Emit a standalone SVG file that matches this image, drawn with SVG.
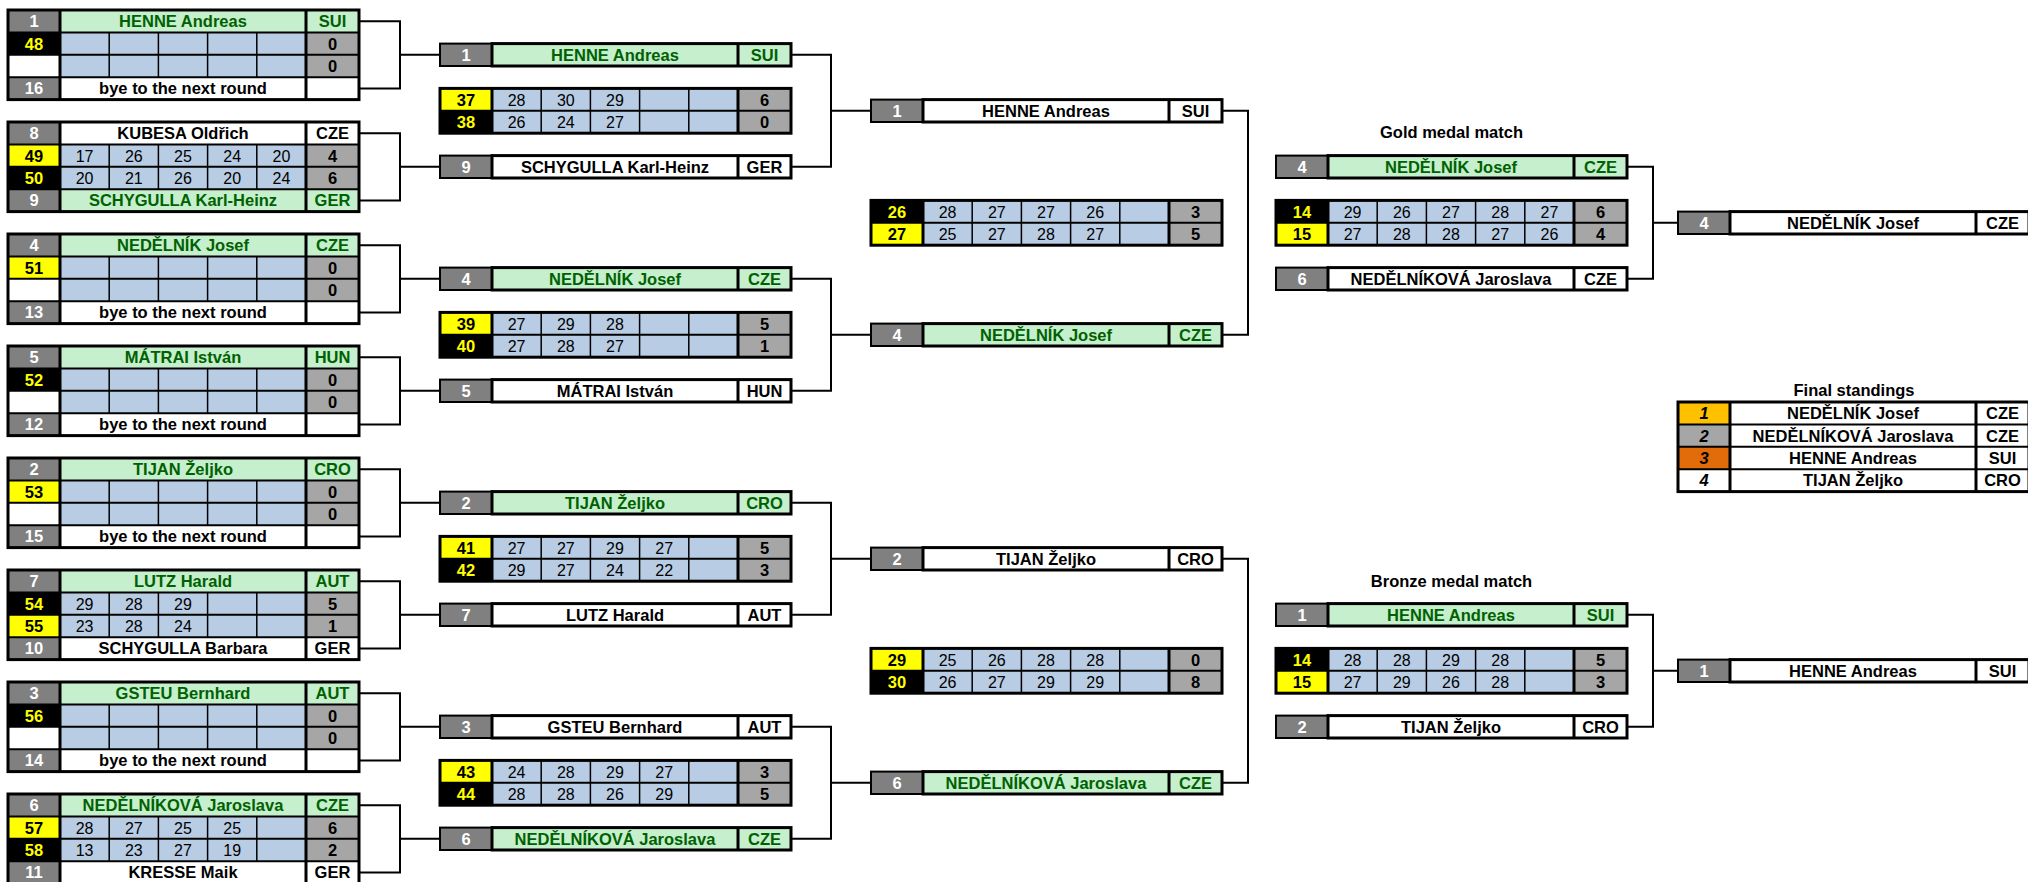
<svg xmlns="http://www.w3.org/2000/svg" xmlns:xlink="http://www.w3.org/1999/xlink" width="2028" height="882" viewBox="0 0 2028 882">
<style>
.sd{fill:#808080}.wh{fill:#fff}.ng{fill:#c6efce}.sc{fill:#b8cce4}.tt{fill:#a6a6a6}.yl{fill:#ffff00}.bk{fill:#000}
.l1{stroke:#000;stroke-width:1.5;fill:none}.l2{stroke:#000;stroke-width:2;fill:none}.l3{stroke:#000;stroke-width:3;fill:none}
.con{stroke:#000;stroke-width:2;fill:none}
text{font-family:"Liberation Sans",Arial,sans-serif;font-size:16.5px;text-anchor:middle;fill:#000}
.b{font-weight:bold}.w{fill:#fff}.g{fill:#006100}.y{fill:#ffff00}.i{font-style:italic}.s{font-size:16px}
</style>
<defs>
<g id="bgrid">
<path class="l2" d="M0 22.4H351M0 44.8H351M0 67.2H351"/>
<path class="l1" d="M101.2 22.4V67.2M150.4 22.4V67.2M199.6 22.4V67.2M248.8 22.4V67.2"/>
<path class="l3" d="M52 0V89.6M298 0V89.6"/>
<rect class="l3" width="351" height="89.6"/>
</g>
<g id="sgrid">
<path class="l2" d="M0 22.4H351"/>
<path class="l1" d="M101.2 0V44.8M150.4 0V44.8M199.6 0V44.8M248.8 0V44.8"/>
<path class="l3" d="M52 0V44.8M298 0V44.8"/>
<rect class="l3" width="351" height="44.8"/>
</g>
<g id="hgrid">
<rect class="l2" width="52" height="22.4"/>
<rect class="l3" x="52" width="299" height="22.4"/>
<path class="l3" d="M298 0V22.4"/>
</g>
<g id="fgrid">
<path class="l2" d="M0 22.4H351M0 44.8H351M0 67.2H351"/>
<path class="l3" d="M52 0V89.6M298 0V89.6"/>
<rect class="l3" width="351" height="89.6"/>
</g>
</defs>
<rect width="2028" height="882" fill="#fff"/>

<g id="connectors">
<path class="con" d="M359 21.2H400V88.4H359M400 54.8H440"/>
<path class="con" d="M359 133.2H400V200.4H359M400 166.8H440"/>
<path class="con" d="M359 245.2H400V312.4H359M400 278.8H440"/>
<path class="con" d="M359 357.2H400V424.4H359M400 390.8H440"/>
<path class="con" d="M359 469.2H400V536.4H359M400 502.8H440"/>
<path class="con" d="M359 581.2H400V648.4H359M400 614.8H440"/>
<path class="con" d="M359 693.2H400V760.4H359M400 726.8H440"/>
<path class="con" d="M359 805.2H400V872.4H359M400 838.8H440"/>
<path class="con" d="M791 54.8H831V166.8H791M831 110.8H871"/>
<path class="con" d="M791 278.8H831V390.8H791M831 334.8H871"/>
<path class="con" d="M791 502.8H831V614.8H791M831 558.8H871"/>
<path class="con" d="M791 726.8H831V838.8H791M831 782.8H871"/>
<path class="con" d="M1222 110.8H1248V334.8H1222"/>
<path class="con" d="M1222 558.8H1248V782.8H1222"/>
<path class="con" d="M1627 166.8H1653V278.8H1627M1653 222.8H1678"/>
<path class="con" d="M1627 614.8H1653V726.8H1627M1653 670.8H1678"/>
</g>

<!-- Round 1 blocks -->
<g id="r1m1" transform="translate(8,10)">
<rect class="sd" width="52" height="22.4"/><rect class="ng" x="52" width="299" height="22.4"/>
<rect class="bk" y="22.4" width="52" height="22.4"/><rect class="wh" y="44.8" width="52" height="22.4"/>
<rect class="sc" x="52" y="22.4" width="246" height="44.8"/><rect class="tt" x="298" y="22.4" width="53" height="44.8"/>
<rect class="sd" y="67.2" width="52" height="22.4"/><rect class="wh" x="52" y="67.2" width="299" height="22.4"/>
<use xlink:href="#bgrid"/>
<text class="b w" x="26" y="17.2">1</text><text class="b g" x="175" y="17.2">HENNE Andreas</text><text class="b g" x="324.5" y="17.2">SUI</text>
<text class="b y" x="26" y="39.6">48</text><text class="b" x="324.5" y="39.6">0</text>
<text class="b" x="324.5" y="62">0</text>
<text class="b w" x="26" y="84.4">16</text><text class="b" x="175" y="84.4">bye to the next round</text>
</g>
<g id="r1m2" transform="translate(8,122)">
<rect class="sd" width="52" height="22.4"/><rect class="wh" x="52" width="299" height="22.4"/>
<rect class="yl" y="22.4" width="52" height="22.4"/><rect class="bk" y="44.8" width="52" height="22.4"/>
<rect class="sc" x="52" y="22.4" width="246" height="44.8"/><rect class="tt" x="298" y="22.4" width="53" height="44.8"/>
<rect class="sd" y="67.2" width="52" height="22.4"/><rect class="ng" x="52" y="67.2" width="299" height="22.4"/>
<use xlink:href="#bgrid"/>
<text class="b w" x="26" y="17.2">8</text><text class="b" x="175" y="17.2">KUBESA Oldřich</text><text class="b" x="324.5" y="17.2">CZE</text>
<text class="b" x="26" y="39.6">49</text><text class="s" x="76.6" y="39.6">17</text><text class="s" x="125.8" y="39.6">26</text><text class="s" x="175" y="39.6">25</text><text class="s" x="224.2" y="39.6">24</text><text class="s" x="273.4" y="39.6">20</text><text class="b" x="324.5" y="39.6">4</text>
<text class="b y" x="26" y="62">50</text><text class="s" x="76.6" y="62">20</text><text class="s" x="125.8" y="62">21</text><text class="s" x="175" y="62">26</text><text class="s" x="224.2" y="62">20</text><text class="s" x="273.4" y="62">24</text><text class="b" x="324.5" y="62">6</text>
<text class="b w" x="26" y="84.4">9</text><text class="b g" x="175" y="84.4">SCHYGULLA Karl-Heinz</text><text class="b g" x="324.5" y="84.4">GER</text>
</g>
<g id="r1m3" transform="translate(8,234)">
<rect class="sd" width="52" height="22.4"/><rect class="ng" x="52" width="299" height="22.4"/>
<rect class="yl" y="22.4" width="52" height="22.4"/><rect class="wh" y="44.8" width="52" height="22.4"/>
<rect class="sc" x="52" y="22.4" width="246" height="44.8"/><rect class="tt" x="298" y="22.4" width="53" height="44.8"/>
<rect class="sd" y="67.2" width="52" height="22.4"/><rect class="wh" x="52" y="67.2" width="299" height="22.4"/>
<use xlink:href="#bgrid"/>
<text class="b w" x="26" y="17.2">4</text><text class="b g" x="175" y="17.2">NEDĚLNÍK Josef</text><text class="b g" x="324.5" y="17.2">CZE</text>
<text class="b" x="26" y="39.6">51</text><text class="b" x="324.5" y="39.6">0</text>
<text class="b" x="324.5" y="62">0</text>
<text class="b w" x="26" y="84.4">13</text><text class="b" x="175" y="84.4">bye to the next round</text>
</g>
<g id="r1m4" transform="translate(8,346)">
<rect class="sd" width="52" height="22.4"/><rect class="ng" x="52" width="299" height="22.4"/>
<rect class="bk" y="22.4" width="52" height="22.4"/><rect class="wh" y="44.8" width="52" height="22.4"/>
<rect class="sc" x="52" y="22.4" width="246" height="44.8"/><rect class="tt" x="298" y="22.4" width="53" height="44.8"/>
<rect class="sd" y="67.2" width="52" height="22.4"/><rect class="wh" x="52" y="67.2" width="299" height="22.4"/>
<use xlink:href="#bgrid"/>
<text class="b w" x="26" y="17.2">5</text><text class="b g" x="175" y="17.2">MÁTRAI István</text><text class="b g" x="324.5" y="17.2">HUN</text>
<text class="b y" x="26" y="39.6">52</text><text class="b" x="324.5" y="39.6">0</text>
<text class="b" x="324.5" y="62">0</text>
<text class="b w" x="26" y="84.4">12</text><text class="b" x="175" y="84.4">bye to the next round</text>
</g>
<g id="r1m5" transform="translate(8,458)">
<rect class="sd" width="52" height="22.4"/><rect class="ng" x="52" width="299" height="22.4"/>
<rect class="yl" y="22.4" width="52" height="22.4"/><rect class="wh" y="44.8" width="52" height="22.4"/>
<rect class="sc" x="52" y="22.4" width="246" height="44.8"/><rect class="tt" x="298" y="22.4" width="53" height="44.8"/>
<rect class="sd" y="67.2" width="52" height="22.4"/><rect class="wh" x="52" y="67.2" width="299" height="22.4"/>
<use xlink:href="#bgrid"/>
<text class="b w" x="26" y="17.2">2</text><text class="b g" x="175" y="17.2">TIJAN Željko</text><text class="b g" x="324.5" y="17.2">CRO</text>
<text class="b" x="26" y="39.6">53</text><text class="b" x="324.5" y="39.6">0</text>
<text class="b" x="324.5" y="62">0</text>
<text class="b w" x="26" y="84.4">15</text><text class="b" x="175" y="84.4">bye to the next round</text>
</g>
<g id="r1m6" transform="translate(8,570)">
<rect class="sd" width="52" height="22.4"/><rect class="ng" x="52" width="299" height="22.4"/>
<rect class="bk" y="22.4" width="52" height="22.4"/><rect class="yl" y="44.8" width="52" height="22.4"/>
<rect class="sc" x="52" y="22.4" width="246" height="44.8"/><rect class="tt" x="298" y="22.4" width="53" height="44.8"/>
<rect class="sd" y="67.2" width="52" height="22.4"/><rect class="wh" x="52" y="67.2" width="299" height="22.4"/>
<use xlink:href="#bgrid"/>
<text class="b w" x="26" y="17.2">7</text><text class="b g" x="175" y="17.2">LUTZ Harald</text><text class="b g" x="324.5" y="17.2">AUT</text>
<text class="b y" x="26" y="39.6">54</text><text class="s" x="76.6" y="39.6">29</text><text class="s" x="125.8" y="39.6">28</text><text class="s" x="175" y="39.6">29</text><text class="b" x="324.5" y="39.6">5</text>
<text class="b" x="26" y="62">55</text><text class="s" x="76.6" y="62">23</text><text class="s" x="125.8" y="62">28</text><text class="s" x="175" y="62">24</text><text class="b" x="324.5" y="62">1</text>
<text class="b w" x="26" y="84.4">10</text><text class="b" x="175" y="84.4">SCHYGULLA Barbara</text><text class="b" x="324.5" y="84.4">GER</text>
</g>
<g id="r1m7" transform="translate(8,682)">
<rect class="sd" width="52" height="22.4"/><rect class="ng" x="52" width="299" height="22.4"/>
<rect class="bk" y="22.4" width="52" height="22.4"/><rect class="wh" y="44.8" width="52" height="22.4"/>
<rect class="sc" x="52" y="22.4" width="246" height="44.8"/><rect class="tt" x="298" y="22.4" width="53" height="44.8"/>
<rect class="sd" y="67.2" width="52" height="22.4"/><rect class="wh" x="52" y="67.2" width="299" height="22.4"/>
<use xlink:href="#bgrid"/>
<text class="b w" x="26" y="17.2">3</text><text class="b g" x="175" y="17.2">GSTEU Bernhard</text><text class="b g" x="324.5" y="17.2">AUT</text>
<text class="b y" x="26" y="39.6">56</text><text class="b" x="324.5" y="39.6">0</text>
<text class="b" x="324.5" y="62">0</text>
<text class="b w" x="26" y="84.4">14</text><text class="b" x="175" y="84.4">bye to the next round</text>
</g>
<g id="r1m8" transform="translate(8,794)">
<rect class="sd" width="52" height="22.4"/><rect class="ng" x="52" width="299" height="22.4"/>
<rect class="yl" y="22.4" width="52" height="22.4"/><rect class="bk" y="44.8" width="52" height="22.4"/>
<rect class="sc" x="52" y="22.4" width="246" height="44.8"/><rect class="tt" x="298" y="22.4" width="53" height="44.8"/>
<rect class="sd" y="67.2" width="52" height="22.4"/><rect class="wh" x="52" y="67.2" width="299" height="22.4"/>
<use xlink:href="#bgrid"/>
<text class="b w" x="26" y="17.2">6</text><text class="b g" x="175" y="17.2">NEDĚLNÍKOVÁ Jaroslava</text><text class="b g" x="324.5" y="17.2">CZE</text>
<text class="b" x="26" y="39.6">57</text><text class="s" x="76.6" y="39.6">28</text><text class="s" x="125.8" y="39.6">27</text><text class="s" x="175" y="39.6">25</text><text class="s" x="224.2" y="39.6">25</text><text class="b" x="324.5" y="39.6">6</text>
<text class="b y" x="26" y="62">58</text><text class="s" x="76.6" y="62">13</text><text class="s" x="125.8" y="62">23</text><text class="s" x="175" y="62">27</text><text class="s" x="224.2" y="62">19</text><text class="b" x="324.5" y="62">2</text>
<text class="b w" x="26" y="84.4">11</text><text class="b" x="175" y="84.4">KRESSE Maik</text><text class="b" x="324.5" y="84.4">GER</text>
</g>

<!-- Round 2 -->
<g id="r2m1">
<g transform="translate(440,43.6)"><rect class="sd" width="52" height="22.4"/><rect class="ng" x="52" width="299" height="22.4"/><use xlink:href="#hgrid"/>
<text class="b w" x="26" y="17.2">1</text><text class="b g" x="175" y="17.2">HENNE Andreas</text><text class="b g" x="324.5" y="17.2">SUI</text></g>
<g transform="translate(440,88.4)"><rect class="yl" width="52" height="22.4"/><rect class="bk" y="22.4" width="52" height="22.4"/><rect class="sc" x="52" width="246" height="44.8"/><rect class="tt" x="298" width="53" height="44.8"/><use xlink:href="#sgrid"/>
<text class="b" x="26" y="17.2">37</text><text class="s" x="76.6" y="17.2">28</text><text class="s" x="125.8" y="17.2">30</text><text class="s" x="175" y="17.2">29</text><text class="b" x="324.5" y="17.2">6</text>
<text class="b y" x="26" y="39.6">38</text><text class="s" x="76.6" y="39.6">26</text><text class="s" x="125.8" y="39.6">24</text><text class="s" x="175" y="39.6">27</text><text class="b" x="324.5" y="39.6">0</text></g>
<g transform="translate(440,155.6)"><rect class="sd" width="52" height="22.4"/><rect class="wh" x="52" width="299" height="22.4"/><use xlink:href="#hgrid"/>
<text class="b w" x="26" y="17.2">9</text><text class="b" x="175" y="17.2">SCHYGULLA Karl-Heinz</text><text class="b" x="324.5" y="17.2">GER</text></g>
</g>
<g id="r2m2">
<g transform="translate(440,267.6)"><rect class="sd" width="52" height="22.4"/><rect class="ng" x="52" width="299" height="22.4"/><use xlink:href="#hgrid"/>
<text class="b w" x="26" y="17.2">4</text><text class="b g" x="175" y="17.2">NEDĚLNÍK Josef</text><text class="b g" x="324.5" y="17.2">CZE</text></g>
<g transform="translate(440,312.4)"><rect class="yl" width="52" height="22.4"/><rect class="bk" y="22.4" width="52" height="22.4"/><rect class="sc" x="52" width="246" height="44.8"/><rect class="tt" x="298" width="53" height="44.8"/><use xlink:href="#sgrid"/>
<text class="b" x="26" y="17.2">39</text><text class="s" x="76.6" y="17.2">27</text><text class="s" x="125.8" y="17.2">29</text><text class="s" x="175" y="17.2">28</text><text class="b" x="324.5" y="17.2">5</text>
<text class="b y" x="26" y="39.6">40</text><text class="s" x="76.6" y="39.6">27</text><text class="s" x="125.8" y="39.6">28</text><text class="s" x="175" y="39.6">27</text><text class="b" x="324.5" y="39.6">1</text></g>
<g transform="translate(440,379.6)"><rect class="sd" width="52" height="22.4"/><rect class="wh" x="52" width="299" height="22.4"/><use xlink:href="#hgrid"/>
<text class="b w" x="26" y="17.2">5</text><text class="b" x="175" y="17.2">MÁTRAI István</text><text class="b" x="324.5" y="17.2">HUN</text></g>
</g>
<g id="r2m3">
<g transform="translate(440,491.6)"><rect class="sd" width="52" height="22.4"/><rect class="ng" x="52" width="299" height="22.4"/><use xlink:href="#hgrid"/>
<text class="b w" x="26" y="17.2">2</text><text class="b g" x="175" y="17.2">TIJAN Željko</text><text class="b g" x="324.5" y="17.2">CRO</text></g>
<g transform="translate(440,536.4)"><rect class="yl" width="52" height="22.4"/><rect class="bk" y="22.4" width="52" height="22.4"/><rect class="sc" x="52" width="246" height="44.8"/><rect class="tt" x="298" width="53" height="44.8"/><use xlink:href="#sgrid"/>
<text class="b" x="26" y="17.2">41</text><text class="s" x="76.6" y="17.2">27</text><text class="s" x="125.8" y="17.2">27</text><text class="s" x="175" y="17.2">29</text><text class="s" x="224.2" y="17.2">27</text><text class="b" x="324.5" y="17.2">5</text>
<text class="b y" x="26" y="39.6">42</text><text class="s" x="76.6" y="39.6">29</text><text class="s" x="125.8" y="39.6">27</text><text class="s" x="175" y="39.6">24</text><text class="s" x="224.2" y="39.6">22</text><text class="b" x="324.5" y="39.6">3</text></g>
<g transform="translate(440,603.6)"><rect class="sd" width="52" height="22.4"/><rect class="wh" x="52" width="299" height="22.4"/><use xlink:href="#hgrid"/>
<text class="b w" x="26" y="17.2">7</text><text class="b" x="175" y="17.2">LUTZ Harald</text><text class="b" x="324.5" y="17.2">AUT</text></g>
</g>
<g id="r2m4">
<g transform="translate(440,715.6)"><rect class="sd" width="52" height="22.4"/><rect class="wh" x="52" width="299" height="22.4"/><use xlink:href="#hgrid"/>
<text class="b w" x="26" y="17.2">3</text><text class="b" x="175" y="17.2">GSTEU Bernhard</text><text class="b" x="324.5" y="17.2">AUT</text></g>
<g transform="translate(440,760.4)"><rect class="yl" width="52" height="22.4"/><rect class="bk" y="22.4" width="52" height="22.4"/><rect class="sc" x="52" width="246" height="44.8"/><rect class="tt" x="298" width="53" height="44.8"/><use xlink:href="#sgrid"/>
<text class="b" x="26" y="17.2">43</text><text class="s" x="76.6" y="17.2">24</text><text class="s" x="125.8" y="17.2">28</text><text class="s" x="175" y="17.2">29</text><text class="s" x="224.2" y="17.2">27</text><text class="b" x="324.5" y="17.2">3</text>
<text class="b y" x="26" y="39.6">44</text><text class="s" x="76.6" y="39.6">28</text><text class="s" x="125.8" y="39.6">28</text><text class="s" x="175" y="39.6">26</text><text class="s" x="224.2" y="39.6">29</text><text class="b" x="324.5" y="39.6">5</text></g>
<g transform="translate(440,827.6)"><rect class="sd" width="52" height="22.4"/><rect class="ng" x="52" width="299" height="22.4"/><use xlink:href="#hgrid"/>
<text class="b w" x="26" y="17.2">6</text><text class="b g" x="175" y="17.2">NEDĚLNÍKOVÁ Jaroslava</text><text class="b g" x="324.5" y="17.2">CZE</text></g>
</g>

<!-- Semifinals -->
<g id="sf1">
<g transform="translate(871,99.6)"><rect class="sd" width="52" height="22.4"/><rect class="wh" x="52" width="299" height="22.4"/><use xlink:href="#hgrid"/>
<text class="b w" x="26" y="17.2">1</text><text class="b" x="175" y="17.2">HENNE Andreas</text><text class="b" x="324.5" y="17.2">SUI</text></g>
<g transform="translate(871,200.4)"><rect class="bk" width="52" height="22.4"/><rect class="yl" y="22.4" width="52" height="22.4"/><rect class="sc" x="52" width="246" height="44.8"/><rect class="tt" x="298" width="53" height="44.8"/><use xlink:href="#sgrid"/>
<text class="b y" x="26" y="17.2">26</text><text class="s" x="76.6" y="17.2">28</text><text class="s" x="125.8" y="17.2">27</text><text class="s" x="175" y="17.2">27</text><text class="s" x="224.2" y="17.2">26</text><text class="b" x="324.5" y="17.2">3</text>
<text class="b" x="26" y="39.6">27</text><text class="s" x="76.6" y="39.6">25</text><text class="s" x="125.8" y="39.6">27</text><text class="s" x="175" y="39.6">28</text><text class="s" x="224.2" y="39.6">27</text><text class="b" x="324.5" y="39.6">5</text></g>
<g transform="translate(871,323.6)"><rect class="sd" width="52" height="22.4"/><rect class="ng" x="52" width="299" height="22.4"/><use xlink:href="#hgrid"/>
<text class="b w" x="26" y="17.2">4</text><text class="b g" x="175" y="17.2">NEDĚLNÍK Josef</text><text class="b g" x="324.5" y="17.2">CZE</text></g>
</g>
<g id="sf2">
<g transform="translate(871,547.6)"><rect class="sd" width="52" height="22.4"/><rect class="wh" x="52" width="299" height="22.4"/><use xlink:href="#hgrid"/>
<text class="b w" x="26" y="17.2">2</text><text class="b" x="175" y="17.2">TIJAN Željko</text><text class="b" x="324.5" y="17.2">CRO</text></g>
<g transform="translate(871,648.4)"><rect class="yl" width="52" height="22.4"/><rect class="bk" y="22.4" width="52" height="22.4"/><rect class="sc" x="52" width="246" height="44.8"/><rect class="tt" x="298" width="53" height="44.8"/><use xlink:href="#sgrid"/>
<text class="b" x="26" y="17.2">29</text><text class="s" x="76.6" y="17.2">25</text><text class="s" x="125.8" y="17.2">26</text><text class="s" x="175" y="17.2">28</text><text class="s" x="224.2" y="17.2">28</text><text class="b" x="324.5" y="17.2">0</text>
<text class="b y" x="26" y="39.6">30</text><text class="s" x="76.6" y="39.6">26</text><text class="s" x="125.8" y="39.6">27</text><text class="s" x="175" y="39.6">29</text><text class="s" x="224.2" y="39.6">29</text><text class="b" x="324.5" y="39.6">8</text></g>
<g transform="translate(871,771.6)"><rect class="sd" width="52" height="22.4"/><rect class="ng" x="52" width="299" height="22.4"/><use xlink:href="#hgrid"/>
<text class="b w" x="26" y="17.2">6</text><text class="b g" x="175" y="17.2">NEDĚLNÍKOVÁ Jaroslava</text><text class="b g" x="324.5" y="17.2">CZE</text></g>
</g>

<!-- Gold medal match -->
<g id="gold">
<text class="b" x="1451.5" y="137.5">Gold medal match</text>
<g transform="translate(1276,155.6)"><rect class="sd" width="52" height="22.4"/><rect class="ng" x="52" width="299" height="22.4"/><use xlink:href="#hgrid"/>
<text class="b w" x="26" y="17.2">4</text><text class="b g" x="175" y="17.2">NEDĚLNÍK Josef</text><text class="b g" x="324.5" y="17.2">CZE</text></g>
<g transform="translate(1276,200.4)"><rect class="bk" width="52" height="22.4"/><rect class="yl" y="22.4" width="52" height="22.4"/><rect class="sc" x="52" width="246" height="44.8"/><rect class="tt" x="298" width="53" height="44.8"/><use xlink:href="#sgrid"/>
<text class="b y" x="26" y="17.2">14</text><text class="s" x="76.6" y="17.2">29</text><text class="s" x="125.8" y="17.2">26</text><text class="s" x="175" y="17.2">27</text><text class="s" x="224.2" y="17.2">28</text><text class="s" x="273.4" y="17.2">27</text><text class="b" x="324.5" y="17.2">6</text>
<text class="b" x="26" y="39.6">15</text><text class="s" x="76.6" y="39.6">27</text><text class="s" x="125.8" y="39.6">28</text><text class="s" x="175" y="39.6">28</text><text class="s" x="224.2" y="39.6">27</text><text class="s" x="273.4" y="39.6">26</text><text class="b" x="324.5" y="39.6">4</text></g>
<g transform="translate(1276,267.6)"><rect class="sd" width="52" height="22.4"/><rect class="wh" x="52" width="299" height="22.4"/><use xlink:href="#hgrid"/>
<text class="b w" x="26" y="17.2">6</text><text class="b" x="175" y="17.2">NEDĚLNÍKOVÁ Jaroslava</text><text class="b" x="324.5" y="17.2">CZE</text></g>
</g>

<!-- Bronze medal match -->
<g id="bronze">
<text class="b" x="1451.5" y="586.5">Bronze medal match</text>
<g transform="translate(1276,603.6)"><rect class="sd" width="52" height="22.4"/><rect class="ng" x="52" width="299" height="22.4"/><use xlink:href="#hgrid"/>
<text class="b w" x="26" y="17.2">1</text><text class="b g" x="175" y="17.2">HENNE Andreas</text><text class="b g" x="324.5" y="17.2">SUI</text></g>
<g transform="translate(1276,648.4)"><rect class="bk" width="52" height="22.4"/><rect class="yl" y="22.4" width="52" height="22.4"/><rect class="sc" x="52" width="246" height="44.8"/><rect class="tt" x="298" width="53" height="44.8"/><use xlink:href="#sgrid"/>
<text class="b y" x="26" y="17.2">14</text><text class="s" x="76.6" y="17.2">28</text><text class="s" x="125.8" y="17.2">28</text><text class="s" x="175" y="17.2">29</text><text class="s" x="224.2" y="17.2">28</text><text class="b" x="324.5" y="17.2">5</text>
<text class="b" x="26" y="39.6">15</text><text class="s" x="76.6" y="39.6">27</text><text class="s" x="125.8" y="39.6">29</text><text class="s" x="175" y="39.6">26</text><text class="s" x="224.2" y="39.6">28</text><text class="b" x="324.5" y="39.6">3</text></g>
<g transform="translate(1276,715.6)"><rect class="sd" width="52" height="22.4"/><rect class="wh" x="52" width="299" height="22.4"/><use xlink:href="#hgrid"/>
<text class="b w" x="26" y="17.2">2</text><text class="b" x="175" y="17.2">TIJAN Željko</text><text class="b" x="324.5" y="17.2">CRO</text></g>
</g>

<!-- Medal winners -->
<g id="gold-winner" transform="translate(1678,211.6)"><rect class="sd" width="52" height="22.4"/><rect class="wh" x="52" width="299" height="22.4"/><use xlink:href="#hgrid"/>
<text class="b w" x="26" y="17.2">4</text><text class="b" x="175" y="17.2">NEDĚLNÍK Josef</text><text class="b" x="324.5" y="17.2">CZE</text></g>
<g id="bronze-winner" transform="translate(1678,659.6)"><rect class="sd" width="52" height="22.4"/><rect class="wh" x="52" width="299" height="22.4"/><use xlink:href="#hgrid"/>
<text class="b w" x="26" y="17.2">1</text><text class="b" x="175" y="17.2">HENNE Andreas</text><text class="b" x="324.5" y="17.2">SUI</text></g>

<!-- Final standings -->
<g id="standings">
<text class="b" x="1854" y="396">Final standings</text>
<g transform="translate(1678,402)">
<rect class="wh" width="351" height="89.6"/>
<rect fill="#ffc000" width="52" height="22.4"/><rect class="tt" y="22.4" width="52" height="22.4"/><rect fill="#e26b0a" y="44.8" width="52" height="22.4"/>
<use xlink:href="#fgrid"/>
<text class="b i" x="26" y="17.2">1</text><text class="b" x="175" y="17.2">NEDĚLNÍK Josef</text><text class="b" x="324.5" y="17.2">CZE</text>
<text class="b i" x="26" y="39.6">2</text><text class="b" x="175" y="39.6">NEDĚLNÍKOVÁ Jaroslava</text><text class="b" x="324.5" y="39.6">CZE</text>
<text class="b i" x="26" y="62">3</text><text class="b" x="175" y="62">HENNE Andreas</text><text class="b" x="324.5" y="62">SUI</text>
<text class="b i" x="26" y="84.4">4</text><text class="b" x="175" y="84.4">TIJAN Željko</text><text class="b" x="324.5" y="84.4">CRO</text>
</g>
</g>
</svg>
